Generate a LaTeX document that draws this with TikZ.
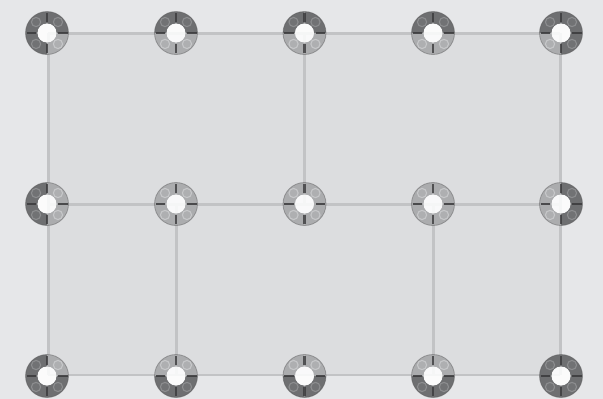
\documentclass[tikz,border=0pt]{standalone}
\definecolor{bgc}{HTML}{E6E7E9}
\definecolor{panel}{HTML}{DCDDDF}
\definecolor{wire}{HTML}{C2C3C5}
\definecolor{darkq}{HTML}{6E6F71}
\definecolor{darkc}{HTML}{8C8D8F}
\definecolor{lightq}{HTML}{ABACAE}
\definecolor{lightc}{HTML}{C6C7C9}
\definecolor{tick}{HTML}{3A3A3C}
\tikzset{
  x=1pt,y=-1pt,
  hub/.style={circle,inner sep=0pt,minimum size=44pt},
  wireline/.style={draw=wire,line width=3pt},
  thinwire/.style={draw=wire,line width=2.2pt},
  lft/.style={xshift=1pt},
  rgt/.style={xshift=-1pt},
  bot/.style={yshift=1pt},
}
\newcommand{\quadr}[4]{%
  \fill[#4q] (#1,#2) ++(#3:21.5) arc[start angle=#3,end angle=#3+90,radius=21.5]
     -- ++(#3+90:-12) arc[start angle=#3+90,end angle=#3,radius=9.5] -- cycle;
  \draw[#4c,line width=1.1pt,fill=#4q!90!#4c] (#1,#2) ++(#3+45:15.5) circle[radius=4.6];
}
\colorlet{dq}{darkq}\colorlet{dc}{darkc}\colorlet{lq}{lightq}\colorlet{lc}{lightc}
\newcommand{\hubdraw}[7]{%
  \quadr{#2}{#3}{180}{#4}\quadr{#2}{#3}{270}{#5}\quadr{#2}{#3}{90}{#6}\quadr{#2}{#3}{0}{#7}
  \fill[white,opacity=.85] (#2,#3) circle[radius=9.5];
  \draw[tick!60!gray,line width=.8pt,opacity=.45] (#2,#3) circle[radius=21.5];
  \draw[tick,line width=2.6pt,opacity=.8] (#2,#3-20) -- (#2,#3-11);
  \draw[tick,line width=2.6pt,opacity=.8] (#2,#3+20) -- (#2,#3+11);
  \draw[tick,line width=1.7pt,opacity=.85] (#2-20.5,#3) -- (#2-11,#3);
  \draw[tick,line width=1.7pt,opacity=.85] (#2+20.5,#3) -- (#2+11,#3);
}
\begin{document}
\begin{tikzpicture}
\useasboundingbox (0,0) rectangle (603,399);
\fill[bgc] (0,0) rectangle (603,399);
\fill[panel] (48,33) rectangle (560,375);
\foreach \n/\x/\y in {a1/47/33,a2/176/33,a3/304.5/33,a4/433/33,a5/561/33,
 b1/47/204,b2/176/204,b3/304.5/204,b4/433/204,b5/561/204,
 c1/47/376,c2/176/376,c3/304.5/376,c4/433/376,c5/561/376}
  \node[hub] (\n) at (\x,\y) {};
\draw[wireline] ([lft]a1.center) -- (a2.center);
\draw[wireline] (a2.center) -- (a3.center);
\draw[wireline] (a3.center) -- (a4.center);
\draw[wireline] (a4.center) -- ([rgt]a5.center);
\draw[wireline] ([lft]b1.center) -- (b2.center);
\draw[wireline] (b2.center) -- (b3.center);
\draw[wireline] (b3.center) -- (b4.center);
\draw[wireline] (b4.center) -- ([rgt]b5.center);
\draw[thinwire] ([lft,bot]c1.center) -- ([bot]c2.center);
\draw[thinwire] ([bot]c2.center) -- ([bot]c3.center);
\draw[thinwire] ([bot]c3.center) -- ([bot]c4.center);
\draw[thinwire] ([bot]c4.center) -- ([rgt,bot]c5.center);
\draw[wireline] ([lft]a1.center) -- ([lft]b1.center);
\draw[wireline] ([lft]b1.center) -- ([lft,bot]c1.center);
\draw[wireline] (a3.center) -- (b3.center);
\draw[wireline] ([rgt]a5.center) -- ([rgt]b5.center);
\draw[wireline] ([rgt]b5.center) -- ([rgt,bot]c5.center);
\draw[wireline] (b2.center) -- ([bot]c2.center);
\draw[wireline] (b4.center) -- ([bot]c4.center);
\hubdraw{a1}{47}{33}{d}{d}{d}{l}{}
\hubdraw{a2}{176}{33}{d}{d}{l}{l}{}
\hubdraw{a3}{304.5}{33}{d}{d}{l}{l}{}
\hubdraw{a4}{433}{33}{d}{d}{l}{l}{}
\hubdraw{a5}{561}{33}{d}{d}{l}{d}{}
\hubdraw{b1}{47}{204}{d}{l}{d}{l}{}
\hubdraw{b2}{176}{204}{l}{l}{l}{l}{}
\hubdraw{b3}{304.5}{204}{l}{l}{l}{l}{}
\hubdraw{b4}{433}{204}{l}{l}{l}{l}{}
\hubdraw{b5}{561}{204}{l}{d}{l}{d}{}
\hubdraw{c1}{47}{376}{d}{l}{d}{d}{}
\hubdraw{c2}{176}{376}{l}{l}{d}{d}{}
\hubdraw{c3}{304.5}{376}{l}{l}{d}{d}{}
\hubdraw{c4}{433}{376}{l}{l}{d}{d}{}
\hubdraw{c5}{561}{376}{d}{d}{d}{d}{}
\end{tikzpicture}
\end{document}
